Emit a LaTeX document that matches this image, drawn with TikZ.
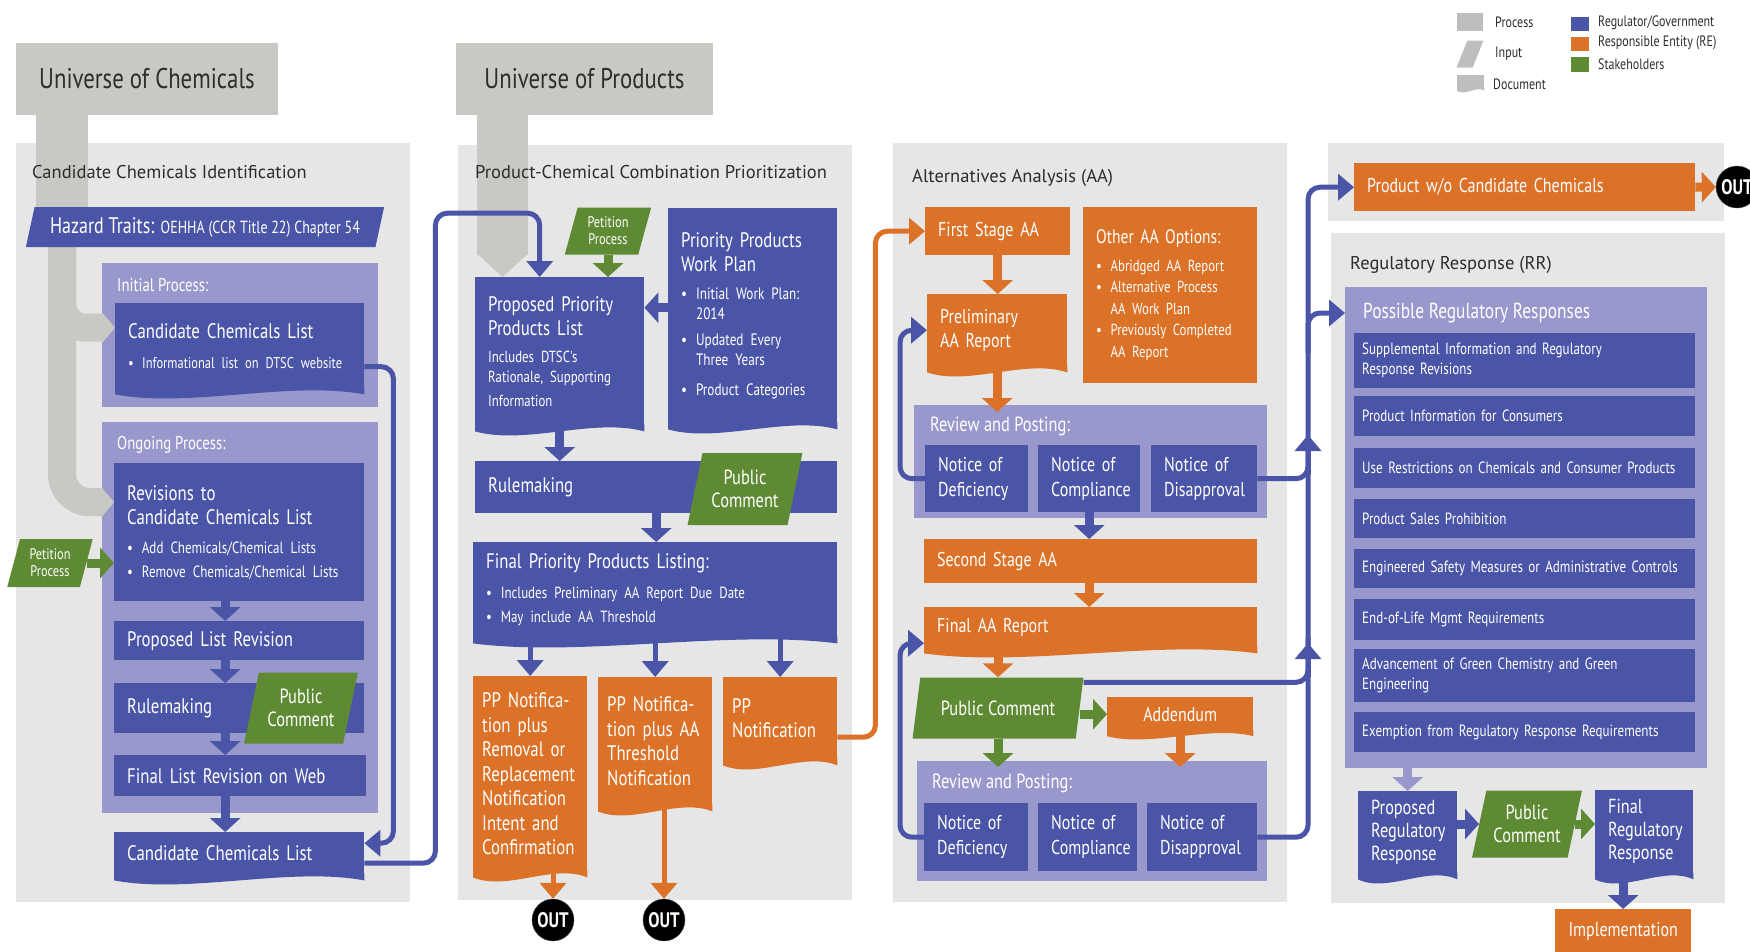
\documentclass[tikz,border=0pt]{standalone}
\usepackage{fontspec}
\setmainfont{PT Sans}
\newfontfamily\cf[FakeStretch=0.8]{PT Sans}
\usepackage{tikz}
\usetikzlibrary{shapes.geometric, arrows.meta, calc}
\pgfdeclarelayer{back}
\pgfdeclarelayer{mid}
\pgfsetlayers{back,mid,main}
\definecolor{regcolor}{RGB}{74,85,168}
\definecolor{recolor}{RGB}{220,113,40}
\definecolor{stakecolor}{RGB}{94,138,52}
\definecolor{subpurple}{RGB}{152,152,204}
\definecolor{panelgray}{RGB}{230,230,230}
\definecolor{unigray}{RGB}{200,200,196}
\definecolor{textgray}{RGB}{45,45,45}
\definecolor{procgray}{RGB}{190,190,192}

\newcommand\fs[2]{\fontsize{#1}{#2}\selectfont}
\newcommand\blt{\makebox[0.9em][l]{\textbullet}}
\newcommand\bltind{\hspace*{0.9em}}
% wavy bottom of a document shape, hung under a node
\newcommand\docwave[3][1]{%
  \fill[#3] let \p1=(#2.south west), \p2=(#2.south east), \n1={\x2-\x1} in
    (\x2,\y2+1pt) -- (\x2,{\y2-6*#1pt})
    .. controls ({\x2-0.3*\n1},{\y2+8*#1pt}) and ({\x1+0.3*\n1},{\y2-20*#1pt}) ..
    (\x1,{\y2-6*#1pt}) -- (\x1,\y2+1pt) -- cycle;}

\begin{document}
\begin{tikzpicture}[
    x=1pt, y=-1pt,
    ptitle/.style={anchor=west, inner sep=0pt, text=textgray, font=\fs{18.5}{21}},
    unibox/.style={fill=unigray, text=textgray, inner sep=0pt, minimum width=262pt, minimum height=72pt, font=\cf\fs{28.5}{30}},
    sub/.style={anchor=north west, fill=subpurple, inner sep=0pt},
    sublbl/.style={anchor=west, inner sep=0pt, text=white, font=\cf\fs{18.5}{20}},
    box/.style={rectangle, anchor=north west, inner xsep=13pt, inner ysep=0pt, align=left, text=white, font=\cf\fs{21}{24}},
    dims/.code 2 args={\pgfmathsetmacro\boxtw{#1-26}\edef\boxtmp{\noexpand\tikzset{minimum width=#1pt, minimum height=#2pt, text width=\boxtw pt}}\boxtmp},
    reg/.style={box, fill=regcolor},
    re/.style={box, fill=recolor},
    notice/.style={font=\cf\fs{20}{25}},
    item/.style={inner xsep=8pt, text width=325pt, font=\cf\fs{16.3}{20}},
    ppdoc/.style={inner xsep=9pt, minimum width=114pt, text width=96pt, font=\cf\fs{21}{24.5}},
    inp/.style={trapezium, trapezium left angle=73, trapezium right angle=107, trapezium stretches=true, fill=stakecolor, text=white, align=center, inner sep=1pt, font=\cf\fs{20.5}{23}},
    flow/.style={line width=9pt, -{Triangle[width=30pt,length=14pt]}},
    conn/.style={line width=5pt, rounded corners=12pt, -{Triangle[width=26pt,length=16pt]}},
    wire/.style={line width=5pt, rounded corners=12pt},
    unistem/.style={draw=unigray, line width=28pt},
    outc/.style={circle, fill=black, draw=black!70, minimum size=42pt, inner sep=0pt, text=white, font=\cf\fs{21}{21}\bfseries},
    lgtxt/.style={anchor=west, inner sep=0pt, text=textgray, font=\cf\fs{15}{16}},
    lgsw/.style={anchor=north west, inner sep=0pt}
]
\useasboundingbox (0,0) rectangle (1750,951);
\begin{pgfonlayer}{back}
  \fill[white] (0,0) rectangle (1750,951);
  \fill[panelgray] (16,143) rectangle (410,902);
  \fill[panelgray] (458,145) rectangle (852,900);
  \fill[panelgray] (893,143) rectangle (1287,902);
  \fill[panelgray] (1328,143) rectangle (1724,221);
  \fill[panelgray] (1331,233) rectangle (1725,903);
\end{pgfonlayer}
% purple group panels
\begin{pgfonlayer}{mid}
  \node[sub, minimum width=276pt, minimum height=144pt] (initp) at (102,263) {};
  \node[sub, minimum width=276pt, minimum height=391pt] (ongp) at (102,422) {};
  \node[sub, minimum width=353pt, minimum height=113pt] (rp1) at (914,405) {};
  \node[sub, minimum width=350pt, minimum height=120pt] (rp2) at (917,761) {};
  \node[sub, minimum width=362pt, minimum height=481pt] (prr) at (1345,287) {};
\end{pgfonlayer}

% legend
\node[lgsw, fill=procgray, minimum width=26pt, minimum height=18pt] (lgp) at (1457,13) {};
\node[lgtxt] (lgpt) at (1495,22) {Process};
\node[inp, fill=procgray, inner sep=2pt, minimum width=27pt, minimum height=17pt] (lgi) at (1470,54) {\strut};
\node[lgtxt] (lgit) at (1495,54) {Input};
\node[lgsw, fill=procgray, minimum width=27pt, minimum height=13pt] (lgd) at (1457,75) {};
\docwave[0.4]{lgd}{procgray}
\node[lgtxt] (lgdt) at (1493,84) {Document};
\node[lgsw, fill=regcolor, minimum width=18pt, minimum height=14pt] (lgb) at (1571,17) {};
\node[lgtxt] (lgbt) at (1598,23) {Regulator/Government};
\node[lgsw, fill=recolor, minimum width=18pt, minimum height=14pt] (lgo) at (1571,37) {};
\node[lgtxt] (lgot) at (1598,43) {Responsible Entity (RE)};
\node[lgsw, fill=stakecolor, minimum width=18pt, minimum height=15pt] (lgg) at (1571,57) {};
\node[lgtxt] (lggt) at (1598,64) {Stakeholders};

% universes
\node[unibox] (unichem) at (147,79) {Universe of Chemicals};
\node[unibox, minimum width=257pt] (uniprod) at (584.5,79) {Universe of Products};

% candidate chemicals identification
\node[ptitle] (t1) at (32,172) {Candidate Chemicals Identification};
\node[inp, fill=regcolor, trapezium left angle=70, trapezium right angle=110, minimum width=360pt, minimum height=40pt] (haz) at (205,227) {\fs{22.5}{24}Hazard Traits: {\fs{17.5}{18}OEHHA (CCR Title 22) Chapter 54}};
\node[sublbl] (initl) at (117,285) {Initial Process:};
\node[reg, dims={249}{85}] (ccl1) at (115,303) {Candidate Chemicals List\par\vspace{6pt}\fs{15.6}{18}\blt Informational list on DTSC website};
\docwave{ccl1}{regcolor}
\node[sublbl] (ongl) at (117,445) {Ongoing Process:};
\node[reg, dims={250}{138}] (rev) at (114,463) {Revisions to\\Candidate Chemicals List\par\vspace{5pt}\fs{16.3}{24}\blt Add Chemicals/Chemical Lists\\\blt Remove Chemicals/Chemical Lists};
\node[inp, minimum width=86pt, minimum height=48pt, font=\cf\fs{15.4}{17}] (pet1) at (50,563) {Petition\\Process};
\node[reg, dims={250}{39}] (plr) at (114,621) {Proposed List Revision};
\node[reg, dims={250}{50}] (rule1) at (114,683) {Rulemaking};
\node[inp, minimum width=114pt, minimum height=71pt] (pc1) at (301,708) {Public\\Comment};
\node[reg, dims={252}{41}] (flr) at (114,755) {Final List Revision on Web};
\node[reg, dims={250}{42}] (ccl2) at (114,832) {Candidate Chemicals List};
\docwave{ccl2}{regcolor}

% product-chemical combination prioritization
\node[ptitle] (t2) at (475,172) {Product-Chemical Combination Prioritization};
\node[inp, minimum width=87pt, minimum height=47pt, font=\cf\fs{15.4}{17}] (pet2) at (608,231) {Petition\\Process};
\node[reg, dims={169}{148}] (ppl) at (475,277) {Proposed Priority\\Products List\par\vspace{8pt}\fs{16}{19.5}Includes DTSC's\\Rationale, Supporting\\Information};
\docwave{ppl}{regcolor}
\node[reg, dims={169}{215}] (ppwp) at (668,208) {Priority Products\\Work Plan\par\vspace{8pt}\fs{16.5}{20}\blt Initial Work Plan:\\\bltind 2014\par\vspace{6pt}\blt Updated Every\\\bltind Three Years\par\vspace{6pt}\blt Product Categories};
\docwave{ppwp}{regcolor}
\node[reg, dims={362}{52}] (rule2) at (475,461) {Rulemaking};
\node[inp, minimum width=115pt, minimum height=72pt] (pc2) at (745,489) {Public\\Comment};
\node[reg, dims={364}{95}] (fppl) at (473,542) {Final Priority Products Listing:\par\vspace{6pt}\fs{16.2}{24}\blt Includes Preliminary AA Report Due Date\\\blt May include AA Threshold};
\docwave{fppl}{regcolor}
\node[re, ppdoc, minimum height=195pt] (ppa) at (473,676) {PP Notifica-\\tion plus\\Removal or\\Replacement\\Notification\\Intent and\\Confirmation};
\docwave{ppa}{recolor}
\node[re, ppdoc, minimum height=128pt] (ppb) at (598,677) {PP Notifica-\\tion plus AA\\Threshold\\Notification};
\docwave{ppb}{recolor}
\node[re, ppdoc, minimum height=82pt] (ppc) at (723,677) {PP\\Notification};
\docwave{ppc}{recolor}
\node[outc] (out1) at (553,920) {OUT};
\node[outc] (out2) at (664,920) {OUT};

% alternatives analysis
\node[ptitle] (t3) at (912,178) {Alternatives Analysis (AA)};
\node[re, dims={145}{48}, font=\cf\fs{20}{22}] (fsaa) at (925,207) {First Stage AA};
\node[re, dims={174}{176}, font=\cf\fs{19.5}{22}] (aaopt) at (1083,207) {Other AA Options:\par\vspace{6pt}\fs{16}{21.5}\blt Abridged AA Report\\\blt Alternative Process\\\bltind AA Work Plan\\\blt Previously Completed\\\bltind AA Report};
\node[re, dims={140}{72}, font=\cf\fs{20}{24}] (prelim) at (927,294) {Preliminary\\AA Report};
\docwave{prelim}{recolor}
\node[sublbl, font=\cf\fs{20.5}{22}] (rp1l) at (930,426) {Review and Posting:};
\node[reg, dims={103}{67}, notice] (nd1) at (925,445) {Notice of\\Deficiency};
\node[reg, dims={102}{67}, notice] (nc1) at (1038,445) {Notice of\\Compliance};
\node[reg, dims={106}{67}, notice] (nda1) at (1151,445) {Notice of\\Disapproval};
\node[re, dims={333}{44}, font=\cf\fs{20}{22}] (ssaa) at (924,539) {Second Stage AA};
\node[re, dims={333}{40}, font=\cf\fs{20}{22}] (faar) at (924,607) {Final AA Report};
\docwave{faar}{recolor}
\node[inp, trapezium left angle=71, trapezium right angle=109, minimum width=171pt, minimum height=61pt] (pc3) at (998,708) {Public Comment};
\node[re, minimum width=146pt, minimum height=34pt, align=center, font=\cf\fs{20}{22}] (add) at (1107,697) {Addendum};
\docwave[0.8]{add}{recolor}
\node[sublbl, font=\cf\fs{20.5}{22}] (rp2l) at (932,783) {Review and Posting:};
\node[reg, dims={104}{68}, notice] (nd2) at (924,803) {Notice of\\Deficiency};
\node[reg, dims={99}{68}, notice] (nc2) at (1038,803) {Notice of\\Compliance};
\node[reg, dims={110}{68}, notice] (nda2) at (1147,803) {Notice of\\Disapproval};

% product without candidate chemicals
\node[re, dims={341}{48}, font=\cf\fs{20}{22}] (pwc) at (1354,163) {Product w/o Candidate Chemicals};
\node[outc] (out3) at (1737,187) {OUT};

% regulatory response
\node[ptitle] (t4) at (1350,265) {Regulatory Response (RR)};
\node[sublbl, font=\cf\fs{21.7}{24}] (prrl) at (1363,313) {Possible Regulatory Responses};
\node[reg, dims={341}{55}, item] (r1) at (1354,333) {Supplemental Information and Regulatory\\Response Revisions};
\node[reg, dims={341}{40}, item] (r2) at (1354,396) {Product Information for Consumers};
\node[reg, dims={341}{40}, item] (r3) at (1354,448) {Use Restrictions on Chemicals and Consumer Products};
\node[reg, dims={341}{39}, item] (r4) at (1354,499) {Product Sales Prohibition};
\node[reg, dims={341}{39}, item] (r5) at (1354,549) {Engineered Safety Measures or Administrative Controls};
\node[reg, dims={341}{41}, item] (r6) at (1354,599) {End-of-Life Mgmt Requirements};
\node[reg, dims={341}{53}, item] (r7) at (1354,649) {Advancement of Green Chemistry and Green\\Engineering};
\node[reg, dims={341}{40}, item] (r8) at (1354,712) {Exemption from Regulatory Response Requirements};
\node[reg, dims={99}{82}, font=\cf\fs{20.3}{23}] (prop) at (1358,791) {Proposed\\Regulatory\\Response};
\docwave{prop}{regcolor}
\node[inp, minimum width=110pt, minimum height=67pt] (pc4) at (1527,824) {Public\\Comment};
\node[reg, dims={98}{83}, font=\cf\fs{20.3}{23}] (frr) at (1595,790) {Final\\Regulatory\\Response};
\docwave{frr}{regcolor}
\node[re, minimum width=136pt, minimum height=45pt, align=center, font=\cf\fs{20}{22}] (impl) at (1555,909) {Implementation};

% grey feeds from the two universes
\coordinate (cs) at ([xshift=-85pt]unichem.south);
\coordinate (ps) at ([xshift=-82pt]uniprod.south);
\begin{pgfonlayer}{mid}
  \fill[unigray] ($(cs)+(-26,0)$) rectangle ($(cs |- haz.center)+(26,0)$);
  \draw[unistem, rounded corners=24pt, -{Triangle[width=28pt,length=12pt]}] (cs |- haz.center) |- ($(ccl1.west)+(0,-18)$);
  \draw[unistem, rounded corners=28pt, -{Triangle[width=28pt,length=12pt]}] (cs |- haz.center) |- ($(rev.west)+(0,-30)$);
  \draw[unistem, line width=51pt, -{Triangle[width=51pt,length=24pt]}] (ps) -- (ps |- ppl.north);
\end{pgfonlayer}

% connectors
\draw[flow, stakecolor] (pet1.east) -- (pet1.east -| rev.west);
\draw[flow, regcolor] ([xshift=-14pt]rev.south) -- ([xshift=-14pt]plr.north);
\draw[flow, regcolor] ([xshift=-14pt]plr.south) -- ([xshift=-14pt]rule1.north);
\draw[flow, regcolor] ([xshift=-14pt]rule1.south) -- ([xshift=-15pt]flr.north);
\draw[flow, regcolor] ([xshift=-15pt]flr.south) -- ([xshift=-14pt]ccl2.north);
\draw[conn, regcolor] ([yshift=-21pt]ccl1.east) -- ++(29,0) |- ([yshift=10pt]ccl2.east);
\draw[conn, regcolor] ([yshift=-10pt]ccl2.east) -- ++(71,0) -- ++(0,-650) -| ([xshift=-20pt]ppl.north);

\draw[flow, stakecolor] (pet2.south) -- (pet2.south |- ppl.north);
\coordinate (wpin) at ([yshift=8pt]ppwp.west);
\draw[flow, regcolor] (wpin) -- (wpin -| ppl.east);
\draw[flow, regcolor] (ppl.south) -- (ppl.south |- rule2.north);
\draw[flow, regcolor] (rule2.south) -- (rule2.south |- fppl.north);
\draw[conn, regcolor] (fppl.south -| ppa.north) -- (ppa.north);
\draw[conn, regcolor] (fppl.south -| ppb.north) -- (ppb.north);
\draw[conn, regcolor] (fppl.south -| ppc.north) -- (ppc.north);
\draw[conn, recolor] (ppa.south -| out1) -- (out1.north);
\draw[conn, recolor] (ppb.south -| out2) -- (out2.north);
\draw[conn, recolor] ([yshift=-19pt]ppc.east) -- ++(38,0) |- (fsaa.west);

\draw[flow, recolor] (fsaa.south) -- (fsaa.south |- prelim.north);
\draw[flow, recolor] (prelim.south) -- ($(prelim.south |- rp1.north)+(0,7)$);
\draw[conn, regcolor] (nd1.west) -- ++(-25,0) |- (prelim.west);
\draw[flow, regcolor] (nc1.south) -- (nc1.south |- ssaa.north);
\draw[flow, recolor] (nc1.south |- ssaa.south) -- (nc1.south |- faar.north);
\draw[flow, recolor] (pc3.north |- faar.south) -- (pc3.north);
\draw[flow, stakecolor] (pc3.east |- add.west) -- (add.west);
\draw[flow, stakecolor] (pc3.south) -- ($(pc3.south |- rp2.north)+(0,6)$);
\draw[flow, recolor] (add.south) -- ($(add.south |- rp2.north)+(0,6)$);
\draw[conn, regcolor] (nd2.west) -- ++(-24,0) |- ([yshift=-16pt]faar.west);

\coordinate (bus) at (1308,0);
\coordinate (prrin) at ([yshift=-26pt]prr.north west);
\draw[conn, regcolor] (nda2.east) -| (bus |- pwc.west) -- (pwc.west);
\draw[wire, regcolor] (nda1.east) -| ($(nda1.east -| bus)+(0,-40)$);
\draw[wire, regcolor] ([yshift=-5pt]pc3.top right corner) -| ($(pc3.top right corner -| bus)+(0,-40)$);
\draw[conn, regcolor] ($(prrin -| bus)+(0,40)$) |- (prrin);
\draw[conn, regcolor] ($(bus |- faar.west)+(0,50)$) -- ($(bus |- faar.west)+(0,16)$);
\draw[conn, regcolor] ($(bus |- nda1.north)+(0,30)$) -- ($(bus |- nda1.north)+(0,-10)$);

\draw[flow, recolor] (pwc.east) -- (out3.west);
\draw[flow, subpurple] (prop.north |- prr.south) -- (prop.north);
\draw[flow, regcolor] (prop.east |- pc4.west) -- (pc4.west);
\draw[flow, stakecolor] (pc4.east) -- (pc4.east -| frr.west);
\draw[flow, regcolor] (impl.north |- frr.south) -- (impl.north);
\end{tikzpicture}
\end{document}
